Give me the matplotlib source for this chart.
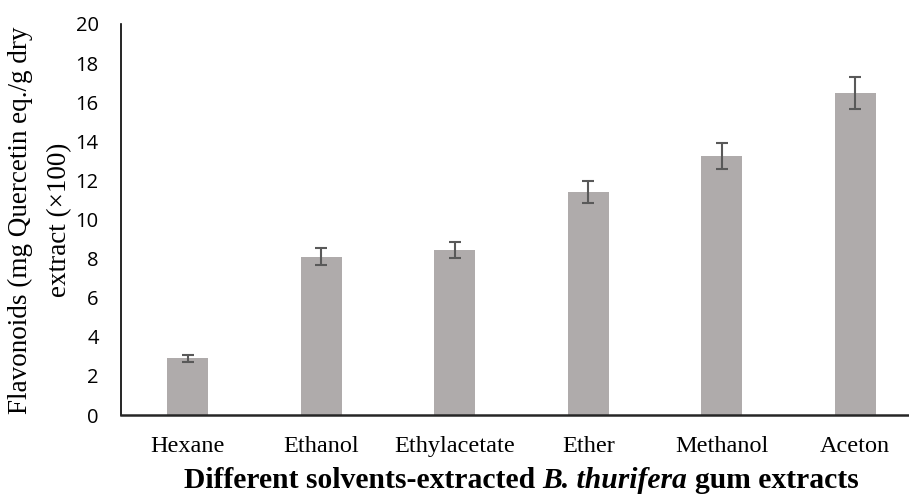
import numpy as np
import matplotlib.pyplot as plt

solvents = ["Hexane", "Ethanol", "Ethylacetate", "Ether", "Methanol", "Aceton"]
flavonoids = [2.9, 8.1, 8.44, 11.4, 13.25, 16.45]
errors = [0.17, 0.43, 0.43, 0.58, 0.66, 0.82]
yticks = [0, 2, 4, 6, 8, 10, 12, 14, 16, 18, 20]

fig = plt.figure(figsize=(9.09, 4.94), dpi=100)
# axis runs past the right edge of the picture, as in the original
ax = fig.add_axes([121 / 909, 1 - 415 / 494, 801 / 909, 391 / 494])

x = np.arange(len(solvents))
ax.bar(x, flavonoids, width=0.31, color="#AFABAB", zorder=2)
ax.errorbar(x, flavonoids, yerr=errors, fmt="none", ecolor="#595959",
            elinewidth=1.5, capsize=4.5, capthick=1.5, zorder=3)

ax.set_xlim(-0.5, len(solvents) - 0.5)
ax.set_ylim(0, 20)
ax.set_yticks(yticks)
ax.set_yticklabels([str(t) for t in yticks], family="Open Sans", fontsize=14.5)
ax.set_xticks(x)
ax.set_xticklabels(solvents, family="Liberation Serif", fontsize=17.5)
ax.tick_params(axis="y", length=0, pad=16)
ax.tick_params(axis="x", length=0, pad=15)

for side in ["top", "right"]:
    ax.spines[side].set_visible(False)
ax.spines["left"].set_linewidth(1.2)
ax.spines["left"].set_color("black")
ax.spines["bottom"].set_linewidth(1.8)
ax.spines["bottom"].set_color("#262626")

fig.text(0.044, 1 - 220 / 494, "Flavonoids (mg Quercetin eq./g dry\nextract (\u00d7100)",
         rotation=90, ha="center", va="center", family="Liberation Serif",
         fontsize=19.5, linespacing=1.7)

# x title in three pieces: bold, bold italic species name, bold
serif = dict(family="Liberation Serif", fontsize=21.3, fontweight="bold")
t1 = fig.text(184 / 909, 1 - 488 / 494, "Different solvents-extracted ",
              ha="left", va="baseline", **serif)
t2 = ax.annotate("B. thurifera ", xy=(1, 0), xycoords=t1, ha="left", va="bottom",
                 style="italic", **serif)
ax.annotate("gum extracts", xy=(1, 0), xycoords=t2, ha="left", va="bottom", **serif)

fig.savefig("out.png", dpi=100)
